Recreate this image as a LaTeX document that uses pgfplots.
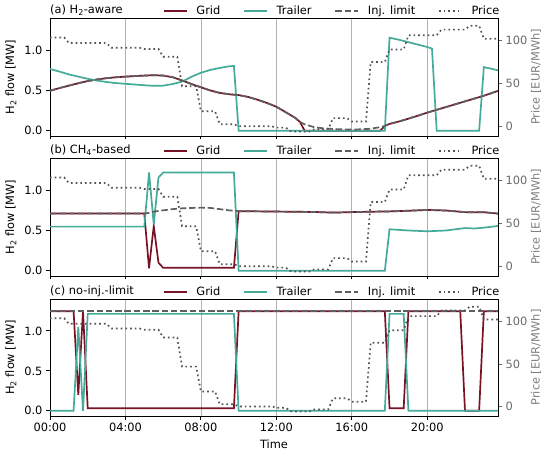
\documentclass[border=0pt]{standalone}
\usepackage{fontspec}
\setmainfont{DejaVu Sans}
\usepackage{pgfplots}
\pgfplotsset{compat=1.18}
\usepackage{pgfplotstable}

\definecolor{gridred}{RGB}{122,18,38}
\definecolor{trailercol}{RGB}{68,170,153}
\definecolor{injgray}{RGB}{95,95,95}
\definecolor{pricegray}{RGB}{85,85,85}
\definecolor{rightgray}{RGB}{105,105,105}
\definecolor{labgray}{RGB}{128,128,128}

\pgfplotstableread{
h p
0 103.5
0.25 103.5
0.5 103.5
0.75 103.5
1 97
1.25 97
1.5 97
1.75 97
2 97
2.25 97
2.5 97
2.75 97
3 97
3.25 91.5
3.5 91.5
3.75 91.5
4 91.5
4.25 91.5
4.5 91.5
4.75 91.5
5 90
5.25 90
5.5 90
5.75 90
6 81
6.25 81
6.5 81
6.75 81
7 47
7.25 47
7.5 47
7.75 47
8 18
8.25 18
8.5 18
8.75 18
9 3
9.25 3
9.5 3
9.75 3
10 0.5
10.25 0.5
10.5 0.5
10.75 0.5
11 0.5
11.25 0.5
11.5 0.5
11.75 0.5
12 -1
12.25 -1
12.5 -1
12.75 -5
13 -5.5
13.25 -5.5
13.5 -5.5
13.75 -5.5
14 -3
14.25 -3
14.5 -3
14.75 -3
15 10
15.25 10
15.5 10
15.75 10
16 6
16.25 6
16.5 6
16.75 6
17 75
17.25 75
17.5 75
17.75 75
18 89.5
18.25 89.5
18.5 89.5
18.75 89.5
19 106
19.25 106
19.5 106
19.75 106
20 106
20.25 106
20.5 106
20.75 112.5
21 112.5
21.25 112.5
21.5 112.5
21.75 112.5
22 112.5
22.25 117
22.5 117
22.75 117
23 102
23.25 102
23.5 102
23.75 102
}\pricetable

\pgfplotsset{
  basestyle/.style={
    scale only axis, width=448bp,
    xmin=0, xmax=23.75,
    tick align=outside, major tick length=3.5bp,
    axis line style={line width=0.9bp},
    every tick/.style={line width=0.9bp, black},
    clip=true,
  },
  flowstyle/.style={
    basestyle,
    ymin=-0.065, ymax=1.40,
    ytick={0,0.5,1}, yticklabels={0.0,0.5,1.0},
    xtick={0,4,8,12,16,20},
    xmajorgrids, grid style={line width=0.8bp, black!30},
    xtick pos=left, ytick pos=left,
    ylabel={H\textsubscript{2} flow [MW]},
    every axis y label/.style={at={(axis description cs:0,0.5)}, xshift=-39bp, rotate=90, anchor=center},
    every axis title/.style={at={(axis description cs:0,1)}, anchor=base west, inner sep=0pt, yshift=4.5bp},
  },
  pricestyle/.style={
    basestyle,
    axis x line=none, axis y line*=right,
    y axis line style={-, line width=0.9bp, black},
    ymin=-10.7, ymax=126,
    ytick={0,50,100}, yticklabels={0,50,100},
    ytick style={rightgray, line width=0.9bp},
    yticklabel style={text=rightgray},
    ylabel={Price [EUR/MWh]},
    every axis y label/.style={at={(axis description cs:1,0.5)}, xshift=38bp, rotate=90, anchor=center, text=labgray},
    legend columns=4,
    legend image code/.code={\draw[##1] (0bp,0bp) -- (22.8bp,0bp);},
    legend style={at={(axis description cs:1.003,1)}, anchor=south east, draw=none, fill=none,
      inner sep=0pt, outer sep=0pt, yshift=1.5bp,
      nodes={inner sep=0pt},
      /tikz/every odd column/.append style={column sep=9bp},
      /tikz/every even column/.append style={column sep=22.8bp}},
  },
  gridline/.style={gridred, line width=1.7bp},
  trailline/.style={trailercol, line width=1.7bp},
  injline/.style={injgray, line width=1.7bp, dash pattern=on 6.5bp off 2.8bp},
  priceline/.style={pricegray, line width=1.7bp, dash pattern=on 1.7bp off 3.0bp},
}

\begin{document}
\fontsize{11.4bp}{13.7bp}\selectfont
\begin{tikzpicture}
\path[use as bounding box] (0,0) rectangle (550bp,456bp);

% ---------- panel (a) ----------
\begin{axis}[flowstyle, height=118bp, at={(50bp,320bp)}, anchor=south west,
  xticklabels={}, title={(a) H\textsubscript{2}-aware}]
\addplot[gridline] coordinates {(0,0.496)(0.5,0.53)(1,0.56)(1.5,0.59)(2,0.617)(2.5,0.637)(3,0.653)(3.5,0.664)(4,0.672)(4.5,0.679)(5,0.685)(5.5,0.69)(6,0.685)(6.5,0.665)(7,0.625)(7.5,0.58)(8,0.54)(8.5,0.5)(9,0.47)(9.5,0.453)(10,0.443)(10.5,0.42)(11,0.385)(11.5,0.345)(12,0.298)(12.5,0.23)(13,0.16)(13.25,0.11)(13.5,0)(17.5,0)(17.75,0.06)(18,0.085)(18.5,0.115)(19,0.15)(19.5,0.187)(20,0.225)(20.5,0.26)(21,0.295)(21.5,0.33)(22,0.365)(22.5,0.4)(23,0.435)(23.5,0.475)(23.75,0.496)};
\addplot[trailline] coordinates {(0,0.767)(0.5,0.735)(1,0.70)(1.5,0.672)(2,0.645)(2.5,0.623)(3,0.605)(3.5,0.592)(4,0.583)(4.5,0.574)(5,0.565)(5.5,0.558)(6,0.56)(6.5,0.58)(7,0.61)(7.5,0.67)(8,0.72)(8.5,0.755)(9,0.78)(9.5,0.80)(9.75,0.805)(10,0)(17.75,0)(18,1.155)(18.5,1.13)(19,1.10)(19.5,1.07)(20,1.04)(20.25,1.02)(20.5,0)(22.75,0)(23,0.79)(23.5,0.765)(23.75,0.75)};
\addplot[injline] coordinates {(0,0.496)(0.5,0.53)(1,0.56)(1.5,0.59)(2,0.617)(2.5,0.637)(3,0.653)(3.5,0.664)(4,0.672)(4.5,0.679)(5,0.685)(5.5,0.69)(6,0.685)(6.5,0.665)(7,0.625)(7.5,0.58)(8,0.54)(8.5,0.5)(9,0.47)(9.5,0.453)(10,0.443)(10.5,0.42)(11,0.385)(11.5,0.345)(12,0.298)(12.5,0.23)(13,0.16)(13.25,0.11)(13.5,0.08)(14,0.045)(14.5,0.03)(15,0.022)(15.5,0.018)(16,0.016)(16.5,0.018)(17,0.025)(17.5,0.045)(17.75,0.06)(18,0.085)(18.5,0.115)(19,0.15)(19.5,0.187)(20,0.225)(20.5,0.26)(21,0.295)(21.5,0.33)(22,0.365)(22.5,0.4)(23,0.435)(23.5,0.475)(23.75,0.496)};
\end{axis}
\begin{axis}[pricestyle, height=118bp, at={(50bp,320bp)}, anchor=south west]
\addlegendimage{gridline}\addlegendentry{Grid}
\addlegendimage{trailline}\addlegendentry{Trailer}
\addlegendimage{injline}\addlegendentry{Inj. limit}
\addplot[priceline] table[x=h,y=p] {\pricetable};
\addlegendentry{Price}
\end{axis}

% ---------- panel (b) ----------
\begin{axis}[flowstyle, height=118bp, at={(50bp,180bp)}, anchor=south west,
  xticklabels={}, title={(b) CH\textsubscript{4}-based}]
\addplot[gridline] coordinates {(0,0.71)(5,0.71)(5.25,0.03)(5.5,0.556)(5.75,0.10)(6,0.037)(9.75,0.037)(10,0.74)(12,0.735)(14,0.73)(15,0.722)(16,0.728)(17,0.733)(18,0.737)(19,0.745)(20,0.755)(21,0.748)(22,0.728)(22.5,0.725)(23,0.727)(23.75,0.71)};
\addplot[trailline] coordinates {(0,0.548)(5,0.548)(5.25,1.22)(5.5,0.577)(5.75,1.157)(6,1.22)(9.75,1.22)(10,0)(17.75,0)(18,0.515)(19,0.50)(20,0.49)(21,0.50)(22,0.53)(22.5,0.525)(23,0.535)(23.75,0.556)};
\addplot[injline] coordinates {(0,0.71)(5,0.71)(5.25,0.72)(5.5,0.735)(6,0.75)(6.5,0.765)(7,0.775)(8,0.784)(8.5,0.78)(9,0.765)(9.5,0.75)(10,0.74)(12,0.735)(14,0.73)(15,0.722)(16,0.728)(17,0.733)(18,0.737)(19,0.745)(20,0.755)(21,0.748)(22,0.728)(22.5,0.725)(23,0.727)(23.75,0.71)};
\end{axis}
\begin{axis}[pricestyle, height=118bp, at={(50bp,180bp)}, anchor=south west]
\addlegendimage{gridline}\addlegendentry{Grid}
\addlegendimage{trailline}\addlegendentry{Trailer}
\addlegendimage{injline}\addlegendentry{Inj. limit}
\addplot[priceline] table[x=h,y=p] {\pricetable};
\addlegendentry{Price}
\end{axis}

% ---------- panel (c) ----------
\begin{axis}[flowstyle, height=117bp, at={(50bp,40bp)}, anchor=south west,
  xticklabels={00:00,04:00,08:00,12:00,16:00,20:00}, xlabel={Time},
  title={(c) no-inj.-limit}]
\addplot[gridline] coordinates {(0,1.247)(1.25,1.247)(1.5,0.2)(1.75,1.247)(2,0.033)(9.75,0.033)(10,1.247)(17.75,1.247)(18,0.033)(18.75,0.033)(19,1.247)(21.75,1.247)(22,0)(22.75,0)(23,1.247)(23.75,1.247)};
\addplot[trailline] coordinates {(0,0)(1.25,0)(1.5,1.05)(1.75,0)(2,1.214)(9.75,1.214)(10,0)(17.75,0)(18,1.214)(18.75,1.214)(19,0)(23.75,0)};
\addplot[injline] coordinates {(0,1.247)(23.75,1.247)};
\end{axis}
\begin{axis}[pricestyle, height=117bp, at={(50bp,40bp)}, anchor=south west]
\addlegendimage{gridline}\addlegendentry{Grid}
\addlegendimage{trailline}\addlegendentry{Trailer}
\addlegendimage{injline}\addlegendentry{Inj. limit}
\addplot[priceline] table[x=h,y=p] {\pricetable};
\addlegendentry{Price}
\end{axis}
\end{tikzpicture}
\end{document}
